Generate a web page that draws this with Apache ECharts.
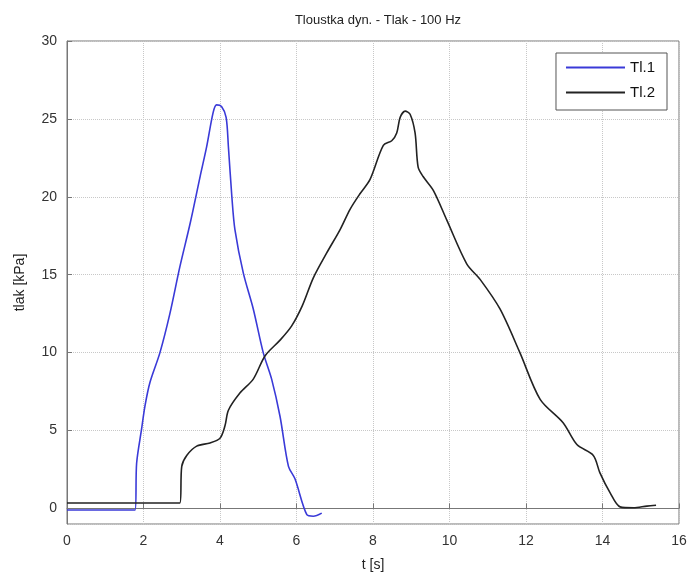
<!DOCTYPE html>
<html>
<head>
<meta charset="utf-8">
<script src="https://cdn.jsdelivr.net/npm/echarts@6/dist/echarts.min.js"></script>
<style>
  html, body { margin: 0; padding: 0; background: #fff; }
  #chart { width: 692px; height: 580px; }
</style>
</head>
<body>
<div id="chart"></div>
<script>
// Tl.1 (modrá)
const t1 = [0, 1.78, 1.82, 1.95, 2.04, 2.17, 2.43, 2.69, 2.95, 3.22, 3.48, 3.65, 3.82, 3.91, 4.04, 4.16,
  4.22, 4.31, 4.39, 4.61, 4.87, 5.13, 5.35, 5.57, 5.79, 5.96, 6.27, 6.44, 6.66];
const p1 = [-0.1, -0.1, 2.9, 5.1, 6.6, 8.1, 10.0, 12.5, 15.5, 18.3, 21.3, 23.2, 25.4, 25.9, 25.8, 25.1,
  23.2, 20.0, 17.9, 15.1, 12.8, 10.0, 8.3, 5.9, 2.7, 1.9, -0.4, -0.5, -0.3];

// Tl.2 (černá)
const t2 = [0, 2.95, 3.0, 3.13, 3.39, 3.74, 4.0, 4.13, 4.22, 4.52, 4.87, 5.18, 5.57, 5.87, 6.15, 6.44,
  6.79, 7.14, 7.4, 7.66, 7.92, 8.27, 8.49, 8.62, 8.71, 8.84, 8.97, 9.1, 9.18, 9.31, 9.58, 9.93, 10.45,
  10.8, 11.32, 11.84, 12.37, 12.97, 13.33, 13.76, 13.93, 14.2, 14.46, 14.81, 15.16, 15.4];
const p2 = [0.35, 0.35, 2.7, 3.4, 4.0, 4.2, 4.5, 5.3, 6.3, 7.4, 8.3, 9.8, 10.8, 11.7, 13.0, 14.8,
  16.4, 17.9, 19.2, 20.2, 21.1, 23.3, 23.6, 24.1, 25.1, 25.5, 25.3, 24.1, 21.9, 21.3, 20.4, 18.5, 15.7,
  14.7, 12.8, 10.0, 7.0, 5.5, 4.1, 3.4, 2.3, 1.0, 0.1, 0.04, 0.15, 0.2];

const names = ['Tl.1', 'Tl.2'];

const font = 'Liberation Sans, Arial, sans-serif';
const chart = echarts.init(document.getElementById('chart'));

chart.setOption({
  animation: false,
  textStyle: { fontFamily: font },
  title: {
    text: 'Tloustka dyn. - Tlak - 100 Hz',
    left: 373,
    top: 9,
    textAlign: 'center',
    textStyle: { fontSize: 13, fontWeight: 'normal', color: '#222', fontFamily: font }
  },
  grid: {
    left: 67, right: 13, top: 41, bottom: 56,
    show: true, borderColor: '#777', borderWidth: 1
  },
  legend: {
    data: names,
    orient: 'vertical',
    right: 25,
    top: 53,
    backgroundColor: '#fff',
    borderColor: '#555',
    borderWidth: 1,
    padding: [7, 12, 10, 10],
    itemGap: 10,
    icon: 'rect',
    itemWidth: 59,
    itemHeight: 2,
    textStyle: { fontSize: 15, color: '#111', fontFamily: font, lineHeight: 15 }
  },
  xAxis: {
    type: 'value',
    min: 0, max: 16, interval: 2,
    name: 't [s]',
    nameLocation: 'middle',
    nameGap: 34,
    nameTextStyle: { fontSize: 14, color: '#222' },
    axisLine: { lineStyle: { color: '#777' } },
    axisTick: { inside: true, length: 5, lineStyle: { color: '#777' } },
    axisLabel: { fontSize: 14, color: '#333', margin: 10 },
    splitLine: { lineStyle: { color: '#c8c8c8', type: 'dotted' } }
  },
  yAxis: {
    type: 'value',
    min: -1, max: 30,
    name: 'tlak [kPa]',
    nameLocation: 'middle',
    nameGap: 40,
    nameTextStyle: { fontSize: 14, color: '#222' },
    axisLine: { show: true, lineStyle: { color: '#777' } },
    axisTick: { inside: true, length: 5, lineStyle: { color: '#777' } },
    axisLabel: { fontSize: 14, color: '#333', margin: 10, showMinLabel: false },
    splitLine: { lineStyle: { color: '#c8c8c8', type: 'dotted' } }
  },
  series: [
    {
      name: names[0],
      type: 'line',
      showSymbol: false,
      smooth: 0.3,
      lineStyle: { width: 1.6, color: '#3a3ad8' },
      itemStyle: { color: '#3a3ad8' },
      data: t1.map((t, i) => [t, p1[i]])
    },
    {
      name: names[1],
      type: 'line',
      showSymbol: false,
      smooth: 0.3,
      lineStyle: { width: 1.6, color: '#222' },
      itemStyle: { color: '#222' },
      data: t2.map((t, i) => [t, p2[i]])
    }
  ]
});
</script>
</body>
</html>
